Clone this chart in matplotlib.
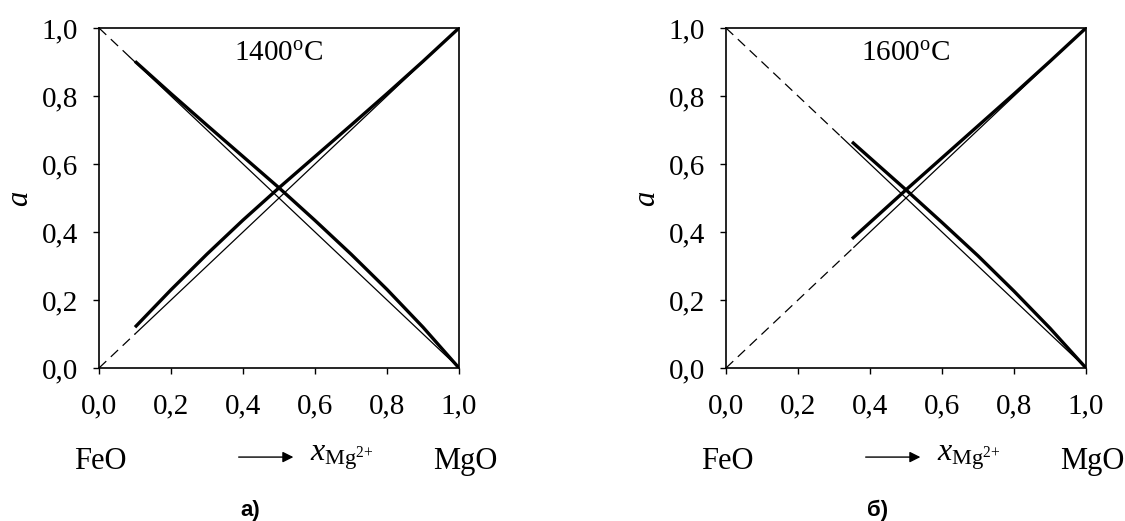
import matplotlib
matplotlib.use("Agg")
import matplotlib.pyplot as plt

plt.rcParams["font.family"] = ["Liberation Serif", "DejaVu Serif"]
plt.rcParams["mathtext.fontset"] = "custom"
plt.rcParams["mathtext.rm"] = "Liberation Serif"
plt.rcParams["mathtext.it"] = "Liberation Serif:italic"

# ideal (Raoult) lines: dashed part then thin solid part
ideal_x = [0.0, 1.0]
ideal_mg = [0.0, 1.0]
ideal_fe = [1.0, 0.0]

# panel a) 1400 C, thick curves
x_1400 = [0.10, 0.20, 0.30, 0.40, 0.50, 0.60, 0.70, 0.80, 0.90, 1.00]
a_mg_1400 = [0.12, 0.23, 0.335, 0.435, 0.53, 0.622, 0.714, 0.807, 0.902, 1.00]
a_fe_1400 = [0.902, 0.807, 0.714, 0.622, 0.53, 0.434, 0.335, 0.231, 0.12, 0.00]

# panel б) 1600 C
x_1600 = [0.35, 0.40, 0.50, 0.60, 0.70, 0.80, 0.90, 1.00]
a_mg_1600 = [0.38, 0.428, 0.524, 0.618, 0.712, 0.806, 0.902, 1.00]
a_fe_1600 = [0.665, 0.618, 0.524, 0.428, 0.33, 0.226, 0.117, 0.00]

# where the dashed ideal lines switch to solid
dash_end_1400 = {"mg": 0.10, "fe": 0.085}
dash_end_1600 = {"mg": 0.355, "fe": 0.32}

ticks = [0.0, 0.2, 0.4, 0.6, 0.8, 1.0]
tick_labels = ["0,0", "0,2", "0,4", "0,6", "0,8", "1,0"]


def ideal_value(x, which):
    # straight line between the two end points
    if which == "mg":
        return ideal_mg[0] + (ideal_mg[1] - ideal_mg[0]) * x
    return ideal_fe[0] + (ideal_fe[1] - ideal_fe[0]) * x


def draw_panel(ax, x, a_mg, a_fe, dash_end, temp, letter):
    for which in ("mg", "fe"):
        xe = dash_end[which]
        ax.plot([0.0, xe], [ideal_value(0.0, which), ideal_value(xe, which)],
                color="black", lw=0.9, dashes=(8, 5))
        ax.plot([xe, 1.0], [ideal_value(xe, which), ideal_value(1.0, which)],
                color="black", lw=0.9)

    ax.plot(x, a_mg, color="black", lw=2.4, solid_capstyle="butt")
    ax.plot(x, a_fe, color="black", lw=2.4, solid_capstyle="butt")

    ax.set_xlim(0, 1)
    ax.set_ylim(0, 1)
    ax.set_xticks(ticks)
    ax.set_xticklabels(tick_labels)
    ax.set_yticks(ticks)
    ax.set_yticklabels(tick_labels)
    ax.tick_params(axis="both", direction="out", length=4, width=1,
                   labelsize=21)
    ax.tick_params(axis="x", pad=14)
    ax.tick_params(axis="y", pad=11)
    for sp in ax.spines.values():
        sp.set_linewidth(1.2)

    ax.text(0.5, 0.925, temp + r"$^{\mathrm{o}}$C", transform=ax.transAxes,
            ha="center", va="center", fontsize=21)
    ax.text(-0.22, 0.5, "a", transform=ax.transAxes, rotation=90,
            ha="center", va="center", fontsize=22, style="italic")

    ax.text(0.005, -0.275, "FeO", transform=ax.transAxes,
            ha="center", va="center", fontsize=22)
    ax.text(1.017, -0.275, "MgO", transform=ax.transAxes,
            ha="center", va="center", fontsize=22)
    ax.annotate("", xy=(0.54, -0.262), xytext=(0.388, -0.262),
                xycoords="axes fraction", textcoords="axes fraction",
                arrowprops=dict(arrowstyle="-|>", color="black", lw=1.0,
                                mutation_scale=16, shrinkA=0, shrinkB=0))
    ax.text(0.585, -0.262, r"$x_{\mathrm{Mg}^{2{+}}}$", transform=ax.transAxes,
            ha="left", va="center", fontsize=23)
    ax.text(0.42, -0.42, letter, transform=ax.transAxes,
            ha="center", va="center", fontsize=16, fontweight="bold",
            family=["Liberation Sans", "DejaVu Sans"])


fig = plt.figure(figsize=(11.25, 5.21), dpi=100)
ax1 = fig.add_axes([99 / 1125, 153 / 521, 360 / 1125, 340 / 521])
ax2 = fig.add_axes([726 / 1125, 153 / 521, 360 / 1125, 340 / 521])

draw_panel(ax1, x_1400, a_mg_1400, a_fe_1400, dash_end_1400, "1400", "а)")
draw_panel(ax2, x_1600, a_mg_1600, a_fe_1600, dash_end_1600, "1600", "б)")

fig.savefig("out.png", dpi=100)
